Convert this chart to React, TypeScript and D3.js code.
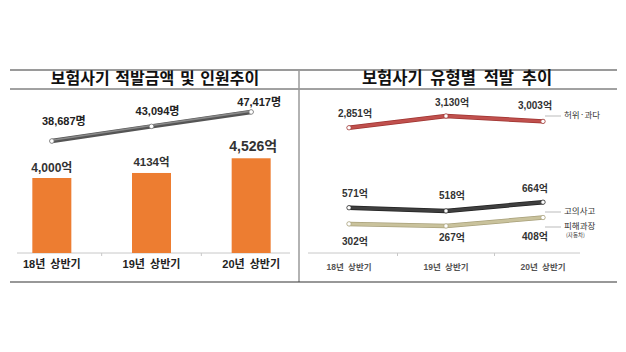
import React from "react";
import * as d3 from "d3";

// left panel
const halfYears = ["18년 상반기", "19년 상반기", "20년 상반기"];
const amounts = [4000, 4134, 4526]; // 억
const amountLabels = ["4,000억", "4134억", "4,526억"];
const people = [38687, 43094, 47417]; // 명
const peopleLabels = ["38,687명", "43,094명", "47,417명"];

// right panel
const fraudTypes = ["허위·과다", "고의사고", "피해과장"];
const falseClaims = [2851, 3130, 3003];
const intentional = [571, 518, 664];
const exaggerated = [302, 267, 408];

const FONT = "'Noto Sans CJK KR', 'Noto Sans', sans-serif";
const NUMFONT = "'Liberation Sans', 'Noto Sans CJK KR', sans-serif";

export default function App() {
  // scales - left
  const xL = d3.scalePoint<string>().domain(halfYears).range([2, 301]).padding(0.5);
  const yBar = d3.scaleLinear().domain([2000, 5000]).range([253, 140.5]);
  const yPeople = d3.scaleLinear().domain([0, 60000]).range([270, 70]);

  // scales - right (broken axis, two linear pieces)
  const xR = d3.scalePoint<string>().domain(halfYears).range([300.5, 591.5]).padding(0.5);
  const yR = d3.scaleLinear().domain([0, 700, 2500, 3500]).range([242, 200, 142.5, 100.5]);

  const peopleLine = d3.line<number>()
    .x((_, i) => xL(halfYears[i])!)
    .y(d => yPeople(d));
  const typeLine = d3.line<number>()
    .x((_, i) => xR(halfYears[i])!)
    .y(d => yR(d));

  const series = [
    { name: fraudTypes[0], values: falseClaims, color: "#c0504d", dark: "#9e3431", labelDy: [-13, -13, -15] },
    { name: fraudTypes[1], values: intentional, color: "#3f3f3f", dark: "#222", labelDy: [-13, -15, -13] },
    { name: fraudTypes[2], values: exaggerated, color: "#c9c29c", dark: "#a8a07a", labelDy: [18, 12, 20] },
  ];
  const labelDx = [6, 6, -8];
  const barW = 39;
  const amountFont = [12, 11.5, 14];
  const amountDy = [-9, -10, -11];
  const peopleDx = [12, 6, 8];
  const peopleDy = [-19, -14, -9];

  return (
    <svg width={626} height={352} style={{ position: "absolute", left: 0, top: 0, background: "#fff" }}
      fontFamily={FONT}>
      {/* frame */}
      <line x1={10} x2={617} y1={70} y2={70} stroke="#9a9a9a" strokeWidth={2} />
      <line x1={10} x2={617} y1={89} y2={89} stroke="#444" strokeWidth={1} />
      <line x1={299} x2={299} y1={69} y2={282} stroke="#9a9a9a" strokeWidth={1.5} />
      <line x1={10} x2={617} y1={282} y2={282} stroke="#333" strokeWidth={1.2} />
      <text x={155} y={80} textAnchor="middle" dominantBaseline="middle" fontSize={16} fontWeight={700} fill="#111" wordSpacing={2}>
        보험사기 적발금액 및 인원추이
      </text>
      <text x={457} y={80} textAnchor="middle" dominantBaseline="middle" fontSize={16.5} fontWeight={700} fill="#111" wordSpacing={4}>
        보험사기 유형별 적발 추이
      </text>

      {/* left: bars */}
      <line x1={17} x2={290} y1={253} y2={253} stroke="#c8c8c8" strokeWidth={1} />
      {halfYears.slice(1).map((c, i) => {
        const x = (xL(c)! + xL(halfYears[i])!) / 2;
        return <line key={c} x1={x} x2={x} y1={253} y2={256} stroke="#c8c8c8" />;
      })}
      {amounts.map((v, i) => (
        <g key={i}>
          <rect x={xL(halfYears[i])! - barW / 2} y={yBar(v)} width={barW} height={yBar(2000) - yBar(v)} fill="#ed7d31" />
          <text x={xL(halfYears[i])! + (i === 2 ? 2 : 0)} y={yBar(v) + amountDy[i]} textAnchor="middle" dominantBaseline="middle"
            fontFamily={NUMFONT} fontSize={amountFont[i]} fontWeight={700} fill="#333">{amountLabels[i]}</text>
        </g>
      ))}
      {halfYears.map((c, i) => (
        <text key={c} x={xL(c)!} y={265} textAnchor="middle" dominantBaseline="middle" fontFamily={NUMFONT}
          fontSize={11} fontWeight={700} fill="#222" wordSpacing={2}>{c}</text>
      ))}

      {/* left: people line */}
      <path d={peopleLine(people)!} fill="none" stroke="#555" strokeWidth={4.5} strokeLinecap="round" />
      <path d={peopleLine(people)!} fill="none" stroke="#8a8a8a" strokeWidth={1.6} transform="translate(0,-0.8)" />
      {people.map((v, i) => (
        <g key={i}>
          <circle cx={xL(halfYears[i])!} cy={yPeople(v)} r={2.3} fill="#fff" stroke="#777" strokeWidth={0.8} />
          <text x={xL(halfYears[i])! + peopleDx[i]} y={yPeople(v) + peopleDy[i]} textAnchor="middle" dominantBaseline="middle"
            fontFamily={NUMFONT} fontSize={11} fontWeight={700} fill="#222">{peopleLabels[i]}</text>
        </g>
      ))}

      {/* right: axis */}
      <line x1={308} x2={580} y1={253} y2={253} stroke="#c8c8c8" strokeWidth={1} />
      {halfYears.slice(1).map((c, i) => {
        const x = (xR(c)! + xR(halfYears[i])!) / 2;
        return <line key={c} x1={x} x2={x} y1={253} y2={256} stroke="#c8c8c8" />;
      })}
      {halfYears.map((c, i) => (
        <text key={c} x={xR(c)!} y={268} textAnchor="middle" dominantBaseline="middle" fontFamily={NUMFONT}
          fontSize={8.5} fontWeight={700} fill="#555" wordSpacing={2}>{c}</text>
      ))}

      {/* right: type lines */}
      {series.map(s => (
        <g key={s.name}>
          <path d={typeLine(s.values)!} fill="none" stroke={s.dark} strokeWidth={4.5} strokeLinecap="round" />
          <path d={typeLine(s.values)!} fill="none" stroke={s.color} strokeWidth={3} />
          {s.values.map((v, i) => (
            <g key={i}>
              <circle cx={xR(halfYears[i])!} cy={yR(v)} r={2.2} fill="#fff" stroke={s.dark} strokeWidth={0.7} />
              <text x={xR(halfYears[i])! + labelDx[i]} y={yR(v) + s.labelDy[i]} textAnchor="middle" dominantBaseline="middle"
                fontFamily={NUMFONT} fontSize={10} fontWeight={700} fill="#333">{v.toLocaleString("en-US") + "억"}</text>
            </g>
          ))}
        </g>
      ))}

      {/* right: callout labels */}
      {[{ t: fraudTypes[0], y: 116 }, { t: fraudTypes[1], y: 212 }, { t: fraudTypes[2], y: 227 }].map(l => (
        <g key={l.t}>
          <line x1={545} x2={561} y1={l.y} y2={l.y} stroke="#aaa" strokeWidth={0.8} />
          <text x={564} y={l.y} dominantBaseline="middle" fontSize={8.5} fill="#333">{l.t}</text>
        </g>
      ))}
      <text x={566} y={235} dominantBaseline="middle" fontSize={5.5} fill="#333">(자동차)</text>
    </svg>
  );
}
